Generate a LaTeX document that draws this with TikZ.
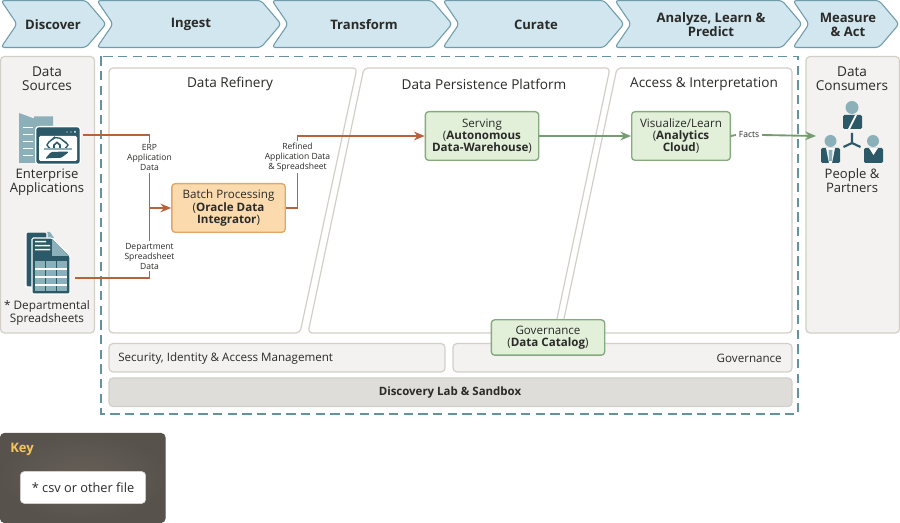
\documentclass[tikz,border=0pt]{standalone}
\usepackage{fontspec}
\setmainfont{Open Sans}
\usetikzlibrary{positioning,arrows.meta,shapes.geometric}
\definecolor{stagefill}{HTML}{D1E6EE}
\definecolor{stageline}{HTML}{6F9CAB}
\definecolor{teal}{HTML}{2C5967}
\definecolor{lteal}{HTML}{8CB0BA}
\definecolor{panelfill}{HTML}{F3F2F0}
\definecolor{panelline}{HTML}{D3CFC8}
\definecolor{labfill}{HTML}{DEDDD9}
\definecolor{orangefill}{HTML}{FBDBAE}
\definecolor{orangeline}{HTML}{E0A868}
\definecolor{greenfill}{HTML}{E2F0D9}
\definecolor{greenline}{HTML}{84AA7E}
\definecolor{rust}{HTML}{B7623B}
\definecolor{arrowgreen}{HTML}{759C70}
\definecolor{keyfill}{HTML}{665F58}
\definecolor{keyedge}{HTML}{57534C}
\definecolor{keytext}{HTML}{F5C65A}
\definecolor{ink}{HTML}{2A2A28}
\newcommand{\stage}[5]{% name, left, right, text centre, text
  \draw[stagebox] (#2,0.5) -- (#3-20,0.5) -- (#3,24) -- (#3-20,47.5) -- (#2,47.5) -- (#2+16,24) -- cycle;
  \node[stagetext] (#1) at (#4,24.5) {#5};}
\begin{document}
\begin{tikzpicture}[x=0.75pt, y=-0.75pt, font=\fontsize{9.6pt}{11pt}\selectfont, text=ink,
  stagebox/.style = {draw=stageline, fill=stagefill, line width=0.8pt, rounded corners=2.5pt},
  stagetext/.style = {font=\fontsize{9.8pt}{10.4pt}\selectfont\bfseries, align=center},
  panel/.style = {draw=panelline, fill=panelfill, line width=0.9pt, rounded corners=3pt},
  area/.style = {draw=panelline, fill=white, line width=0.9pt, rounded corners=3pt},
  head/.style = {font=\fontsize{10.2pt}{10.6pt}\selectfont, align=center},
  bar/.style = {font=\fontsize{8.7pt}{9pt}\selectfont, inner sep=0pt},
  small/.style = {font=\fontsize{6.4pt}{7.5pt}\selectfont, align=center, inner sep=1pt},
  proc/.style = {draw=greenline, fill=greenfill, line width=1pt, rounded corners=2.5pt, minimum width=85pt, align=center, font=\fontsize{8.7pt}{9.2pt}\selectfont, inner sep=0pt},
  rustline/.style = {draw=rust, line width=1.4pt},
  greenarrow/.style = {draw=arrowgreen, line width=1.4pt, -{Stealth[length=8pt,width=6.5pt]}},
  rustarrow/.style = {draw=rust, line width=1.4pt, -{Stealth[length=8pt,width=6.5pt]}}]
\useasboundingbox (0,0) rectangle (900,523);
% stages
\stage{s1}{1}{106}{53}{Discover}
\stage{s2}{97}{281}{191}{Ingest}
\stage{s3}{272}{452}{364}{Transform}
\stage{s4}{443}{624}{536}{Curate}
\stage{s5}{615}{802}{711}{Analyze, Learn \&\\Predict}
\stage{s6}{793}{899}{848}{Measure\\\& Act}
% side panels
\draw[panel] (0.5,56.5) rectangle (94.5,333);
\node[head] (srchead) at (47,79) {Data\\Sources};
\draw[panel] (806,56.5) rectangle (899.5,333);
\node[head] (conhead) at (852,79) {Data\\Consumers};
% dashed frame
\draw[stageline!85!teal, line width=0.9pt, dash pattern=on 7pt off 4pt] (101,56.5) rectangle (798,414);
% areas
\draw[area] (109,68) -- (357,68) -- (300,333) -- (109,333) -- cycle;
\draw[area] (364,68) -- (610,68) -- (554,333) -- (308,333) -- cycle;
\draw[area] (617,68) -- (792,68) -- (792,333) -- (561,333) -- cycle;
\node[head] (refinery) at (230,84) {Data Refinery};
\node[head] (platform) at (484,84) {Data Persistence Platform};
\node[head] (access) at (704,84) {Access \& Interpretation};
% bottom bars
\draw[panel] (109,343.5) rectangle (445,372);
\node[bar, anchor=west] (security) at (118,358) {Security, Identity \& Access Management};
\draw[panel] (453,343.5) rectangle (792,372);
\node[bar, anchor=east] (govbar) at (782,358) {Governance};
\draw[panel, fill=labfill] (109,378) rectangle (792,406.5);
\node[bar, font=\fontsize{8.6pt}{9pt}\selectfont\bfseries] (lab) at (450,393) {Discovery Lab \& Sandbox};
% process boxes
\node[proc, draw=orangeline, fill=orangefill, minimum height=36.5pt] (batch) at (228.5,208) {Batch Processing\\(\textbf{Oracle Data}\\\textbf{Integrator})};
\node[proc, minimum height=36.5pt] (serving) at (482,136) {Serving\\(\textbf{Autonomous}\\\textbf{Data-Warehouse})};
\node[proc, minimum height=36.5pt, minimum width=74pt] (visual) at (681,136) {Visualize/Learn\\(\textbf{Analytics}\\\textbf{Cloud})};
\node[proc, minimum height=26.5pt] (catalog) at (548,337.5) {Governance\\(\textbf{Data Catalog})};
% enterprise icon
\fill[lteal] (19,113) -- (34,118.5) -- (34,116.5) -- (53,116.5) -- (53,128) -- (37,163) -- (19,163) -- cycle;
\foreach \y in {127,134,141,148,155} \fill[white] (23,\y) rectangle (33,\y+1.5);
\draw[teal, fill=teal, line width=1pt, rounded corners=1.5pt, preaction={draw=white, line width=3pt}] (37,128) rectangle (79,163);
\fill[white, rounded corners=1pt] (39,136) rectangle (77,161);
\fill[white] (67,132) circle (0.7) (71,132) circle (0.7) (75,132) circle (1);
\draw[teal, line width=1pt, rounded corners=1.5pt] (50,148) -- (47,147) -- (47,143) -- (51,141) -- (53,138) -- (58,137.5) -- (62,139) -- (64,142) -- (68,143) -- (68,147) -- (65,148);
\draw[teal, line width=1.2pt] (54,148) -- (54,145) -- (57,142.5) -- (60,145) -- (60,148);
\fill[lteal] (44,148.5) rectangle (72,150);
\fill[teal, rounded corners=1pt] (45,159) -- (51,152) -- (66,151.5) -- (69,152) -- (61,158) -- (50,158) -- cycle;
\coordinate (entout) at (83,135);
\node[head, font=\fontsize{9.8pt}{10.6pt}\selectfont] (enttext) at (47,182) {Enterprise\\Applications};
% spreadsheet icon
\fill[lteal] (46,232) -- (50,232) -- (54,238) -- (46,238) -- cycle;
\draw[fill=teal, draw=white, line width=0.8pt, rounded corners=1pt] (26,232) -- (47,232) -- (47,287) -- (26,287) -- cycle;
\draw[fill=teal, draw=white, line width=0.8pt, rounded corners=1pt] (32,238) -- (52,238) -- (70,256) -- (70,294) -- (32,294) -- cycle;
\fill[lteal] (52,238.5) -- (69,256) -- (52,256) -- cycle;
\fill[white] (35,241) rectangle (46,242.5) (35,245) rectangle (50,246.5) (35,249) rectangle (50,250.5);
\fill[lteal] (35,261) rectangle (67,291);
\foreach \x in {45,56} \fill[teal] (\x,261) rectangle (\x+1,291);
\foreach \y in {268,276,284} \fill[white] (35,\y) rectangle (67,\y+2.5);
\coordinate (sheetout) at (75,278);
\node[head, font=\fontsize{8.8pt}{10.4pt}\selectfont] (sheettext) at (47,313) {* Departmental\\Spreadsheets};
% people icon
\fill[lteal] (852,107.5) circle (6.5);
\fill[teal, rounded corners=1pt] (843,115) rectangle (862,129);
\fill[white] (848,129) -- (855,115) -- (857,115) -- (850,129) -- cycle;
\fill[lteal] (830.5,141) circle (6);
\fill[teal, rounded corners=1pt] (821,148) rectangle (840,163);
\fill[white] (826,148) -- (835,148) -- (832,163) -- (829,163) -- cycle;
\fill[lteal] (828.5,150) -- (832.5,150) -- (832,161) -- (829,161) -- cycle;
\fill[lteal] (873,141) circle (6);
\fill[teal, rounded corners=1pt] (864,148) rectangle (883,163);
\fill[white] (869,148) -- (878,148) -- (873.5,155) -- cycle;
\draw[teal, line width=1.6pt] (852,143) -- (852,133) (852,143) -- (843.5,147) (852,143) -- (860.5,147);
\node[head, font=\fontsize{9.8pt}{10.6pt}\selectfont] (peopletext) at (852,180.5) {People \&\\Partners};
% labels
\node[small] (erp) at (149.5,158) {ERP\\Application\\Data};
\node[small] (dept) at (149.5,256) {Department\\Spreadsheet\\Data};
\node[small] (refined) at (297.5,157) {Refined\\Application Data\\\& Spreadsheet};
\node[small, inner sep=2pt] (facts) at (749,135) {Facts};
% connectors
\draw[rustline] (entout) -| (erp.north);
\draw[rustline] (erp.south) -- (dept.north);
\draw[rustline] (sheetout) -| (dept.south);
\draw[rustarrow] (149.5,208) -- (batch.west);
\draw[rustline] (batch.east) -- (297.5,208) -- (refined.south);
\draw[rustarrow] (refined.north) |- (serving.west);
\draw[greenarrow] (serving.east) -- (visual.west);
\draw[draw=arrowgreen, line width=1.4pt] (visual.east) -- (facts.west);
\draw[greenarrow] (facts.east) -- (816,136);
% key
\shade[draw=keyedge, inner color=keyfill, outer color=keyedge, line width=0.8pt, rounded corners=3pt] (0.5,433.5) rectangle (165,522.5);
\node[text=keytext, font=\fontsize{9.8pt}{11pt}\selectfont\bfseries, anchor=west, inner sep=0pt] (key) at (10,449) {Key};
\node[draw=panelline, fill=white, rounded corners=3pt, minimum width=94pt, minimum height=24pt, font=\fontsize{9.6pt}{10pt}\selectfont, inner sep=0pt] (csv) at (83,487.5) {* csv or other file};
\end{tikzpicture}
\end{document}
